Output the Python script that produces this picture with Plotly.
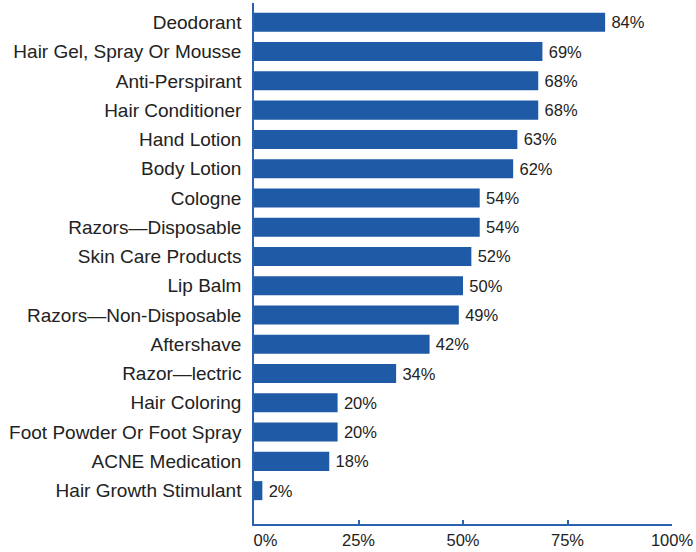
import plotly.graph_objects as go

categories = [
    "Deodorant", "Hair Gel, Spray Or Mousse", "Anti-Perspirant", "Hair Conditioner",
    "Hand Lotion", "Body Lotion", "Cologne", "Razors\u2014Disposable",
    "Skin Care Products", "Lip Balm", "Razors\u2014Non-Disposable", "Aftershave",
    "Razor\u2014lectric", "Hair Coloring", "Foot Powder Or Foot Spray",
    "ACNE Medication", "Hair Growth Stimulant",
]
values = [84, 69, 68, 68, 63, 62, 54, 54, 52, 50, 49, 42, 34, 20, 20, 18, 2]
tick_vals = [0, 25, 50, 75, 100]
tick_text = ["\u00a0\u00a0\u00a0\u00a0\u00a00%", "25%", "50%", "75%", "100%"]

bar_color = "#1f5aa6"
axis_color = "#2a62b0"

fig = go.Figure(go.Bar(
    y=categories,
    x=values,
    orientation="h",
    marker=dict(color=bar_color, line=dict(width=0)),
    text=[f"\u2009{v}%" for v in values],
    textposition="outside",
    constraintext="none",
    textfont=dict(family="Liberation Sans, Arial, sans-serif", size=16.5, color="#222222"),
    cliponaxis=False,
    width=0.65,
))

fig.update_layout(
    width=696, height=552,
    margin=dict(l=254, r=23, t=3, b=22),
    plot_bgcolor="white", paper_bgcolor="white",
    showlegend=False,
    xaxis=dict(
        range=[0, 100], tickvals=tick_vals, ticktext=tick_text,
        showgrid=False, zeroline=False,
        showline=True, linecolor=axis_color, linewidth=1.5,
        ticks="inside", ticklen=4, tickcolor=axis_color, tickwidth=1.5,
        tickfont=dict(family="Liberation Sans, Arial, sans-serif", size=16.5, color="#222222"),
    ),
    yaxis=dict(
        type="category",
        categoryorder="array", categoryarray=categories,
        range=[17.14, -0.66],
        showgrid=False, zeroline=False,
        showline=True, linecolor=axis_color, linewidth=1.5,
        ticks="", ticklabelstandoff=7,
        tickfont=dict(family="Liberation Sans, Arial, sans-serif", size=19, color="#222222"),
    ),
)

fig.write_html("out.html")
